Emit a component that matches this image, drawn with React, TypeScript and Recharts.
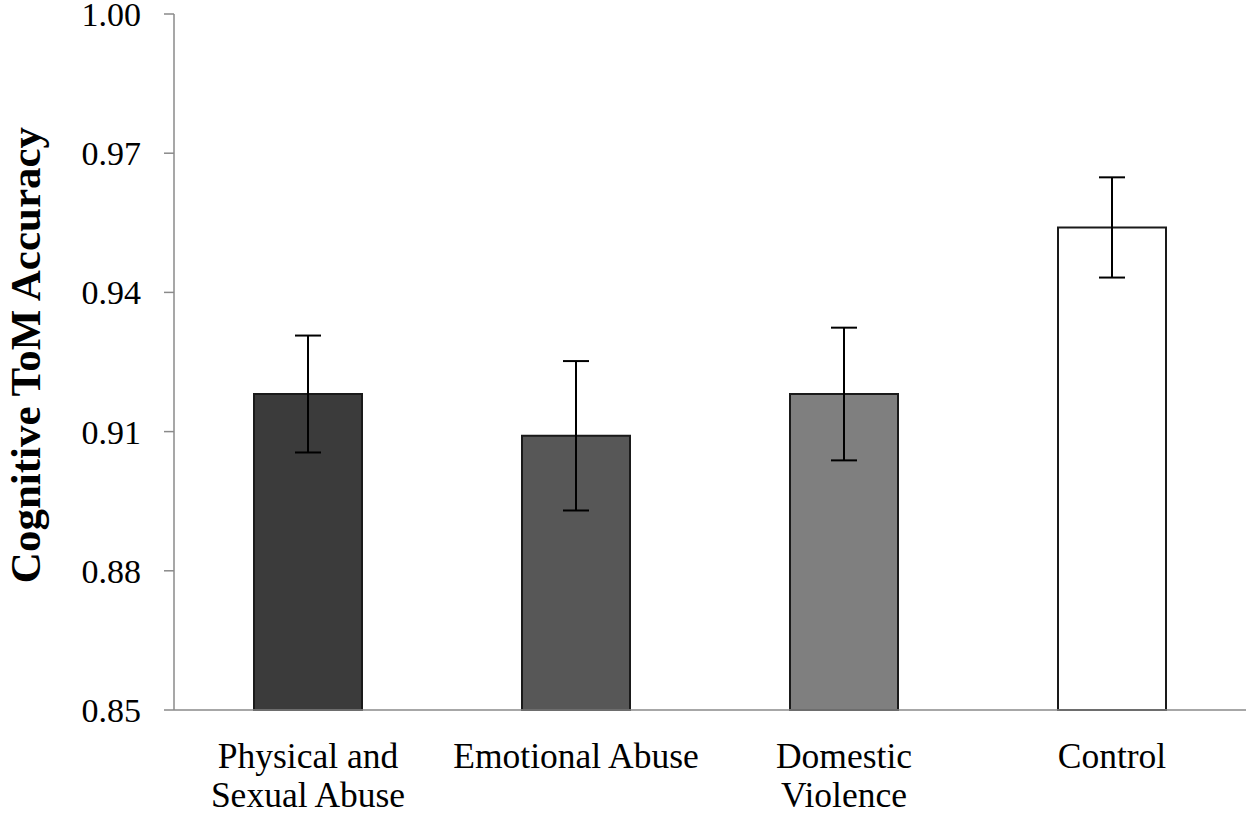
import React from "react";
import { BarChart, Bar, XAxis, YAxis, ErrorBar, Cell, Label } from "recharts";

const categories = ["Physical and Sexual Abuse", "Emotional Abuse", "Domestic Violence", "Control"];
const tickLines = [["Physical and", "Sexual Abuse"], ["Emotional Abuse"], ["Domestic", "Violence"], ["Control"]];
const means = [0.9181, 0.9091, 0.9181, 0.954];
const errors = [0.0126, 0.0161, 0.0143, 0.0108];
const fills = ["#3b3b3b", "#575757", "#7f7f7f", "#ffffff"];
const yTicks = [0.85, 0.88, 0.91, 0.94, 0.97, 1.0];
const boundaryTicks = [0, 1, 2, 3, 4];
const yLabel = "Cognitive ToM Accuracy";

const data = categories.map((c, i) => ({ name: c, pos: i + 0.5, value: means[i], err: errors[i] }));

const FONT = "'Liberation Serif', 'Times New Roman', serif";
const AXIS_COLOR = "#8a8a8a";

const XTick = (props: any) => {
  const { x, y, payload } = props;
  const lines = tickLines[payload.index] || [String(payload.value)];
  return (
    <text x={x} y={y} textAnchor="middle" fontFamily={FONT} fontSize={35.5} fill="#000">
      {lines.map((l: string, i: number) => (
        <tspan key={i} x={x} dy={i === 0 ? 57 : 39}>
          {l}
        </tspan>
      ))}
    </text>
  );
};

const YLabelContent = (props: any) => {
  const vb = props.viewBox || {};
  const cx = (vb.x || 0) + 40;
  const cy = (vb.y || 0) + (vb.height || 0) / 2 - 7;
  return (
    <text
      x={cx}
      y={cy}
      transform={`rotate(-90, ${cx}, ${cy})`}
      textAnchor="middle"
      fontFamily={FONT}
      fontSize={43}
      fontWeight="bold"
      fill="#000"
    >
      {yLabel}
    </text>
  );
};

export default function App() {
  return (
    <div style={{ position: "absolute", left: 0, top: 0, width: 1250, height: 815, background: "#fff" }}>
      <BarChart
        width={1250}
        height={815}
        data={data}
        margin={{ top: 14, right: 4, bottom: 0, left: 0 }}
        barSize={108}
      >
        <XAxis
          xAxisId="bound"
          dataKey="pos"
          type="number"
          domain={[0, 4]}
          allowDataOverflow
          ticks={boundaryTicks}
          interval={0}
          tick={false}
          tickSize={10}
          height={1}
          axisLine={{ stroke: AXIS_COLOR, strokeWidth: 1.5 }}
          tickLine={{ stroke: AXIS_COLOR, strokeWidth: 1.5 }}
        />
        <XAxis
          xAxisId="cat"
          dataKey="name"
          type="category"
          height={104}
          axisLine={false}
          tickLine={false}
          tickSize={0}
          tickMargin={0}
          interval={0}
          tick={<XTick />}
        />
        <YAxis
          domain={[0.85, 1.0]}
          ticks={yTicks}
          interval={0}
          width={174}
          tickSize={10}
          tickMargin={23}
          tickFormatter={(v: number) => v.toFixed(2)}
          tick={{ fontFamily: FONT, fontSize: 34, fill: "#000" }}
          axisLine={{ stroke: AXIS_COLOR, strokeWidth: 1.5 }}
          tickLine={{ stroke: AXIS_COLOR, strokeWidth: 1.5 }}
        >
          <Label content={<YLabelContent />} position="insideLeft" />
        </YAxis>
        <Bar xAxisId="cat" dataKey="value" stroke="#1a1a1a" strokeWidth={2} isAnimationActive={false}>
          {data.map((d, i) => (
            <Cell key={i} fill={fills[i]} />
          ))}
          <ErrorBar dataKey="err" width={13} stroke="#000" strokeWidth={2} />
        </Bar>
      </BarChart>
    </div>
  );
}
